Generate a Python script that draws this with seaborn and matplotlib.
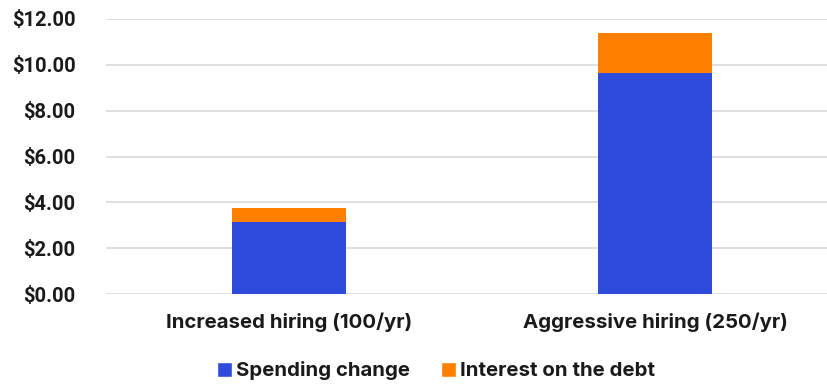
import matplotlib
matplotlib.use("Agg")
import matplotlib.pyplot as plt
import seaborn as sns
import pandas as pd
from matplotlib.patches import Patch

categories = ["Increased hiring (100/yr)", "Aggressive hiring (250/yr)"]
spending_change = [3.14, 9.65]
interest_on_debt = [0.61, 1.73]
yticks = [0, 2, 4, 6, 8, 10, 12]

BLUE = "#2E4BDB"
ORANGE = "#FF8000"

sns.set_theme(style="white")
plt.rcParams["font.family"] = ["Inter", "DejaVu Sans"]

df = pd.DataFrame({
    "category": categories,
    "spending": spending_change,
    "interest": interest_on_debt,
})
df["total"] = df["spending"] + df["interest"]

fig = plt.figure(figsize=(8.28, 3.85), dpi=100)
ax = fig.add_axes([106 / 828, 1 - 294 / 385, 1 - 106 / 828, (294 - 19) / 385])

# stacked bars: total in orange, spending drawn over it in blue
sns.barplot(data=df, x="category", y="total", color=ORANGE, width=0.314,
            saturation=1, linewidth=0, ax=ax, zorder=3)
sns.barplot(data=df, x="category", y="spending", color=BLUE, width=0.314,
            saturation=1, linewidth=0, ax=ax, zorder=4)

ax.set_xlim(-0.5, -0.5 + 722 / 366)
ax.set_ylim(0, 12)
ax.set_yticks(yticks)
ax.set_yticklabels([f"${v:.2f}" for v in yticks])
ax.yaxis.grid(True, color="#D9D9D9", linewidth=1.2, zorder=0)
ax.set_axisbelow(True)
for s in ax.spines.values():
    s.set_visible(False)
ax.set_xlabel("")
ax.set_ylabel("")
ax.tick_params(axis="y", length=0, pad=22, labelsize=14.5, labelcolor="#1a1a1a")
ax.tick_params(axis="x", length=0, pad=13, labelsize=14.7, labelcolor="#1a1a1a")
for lab in ax.get_yticklabels():
    lab.set_fontfamily(["Roboto", "DejaVu Sans"])
    lab.set_fontweight("bold")
for lab in ax.get_xticklabels():
    lab.set_fontweight("bold")

handles = [Patch(facecolor=BLUE, label="Spending change"),
           Patch(facecolor=ORANGE, label="Interest on the debt")]
fig.legend(handles=handles, loc="center", bbox_to_anchor=(436 / 828, 1 - 371 / 385),
           ncol=2, frameon=False, handlelength=0.75, handleheight=0.75,
           handletextpad=0.2, columnspacing=1.5,
           prop={"size": 14.7, "weight": "bold"}, labelcolor="#1a1a1a")

fig.savefig("out.png", dpi=100)
